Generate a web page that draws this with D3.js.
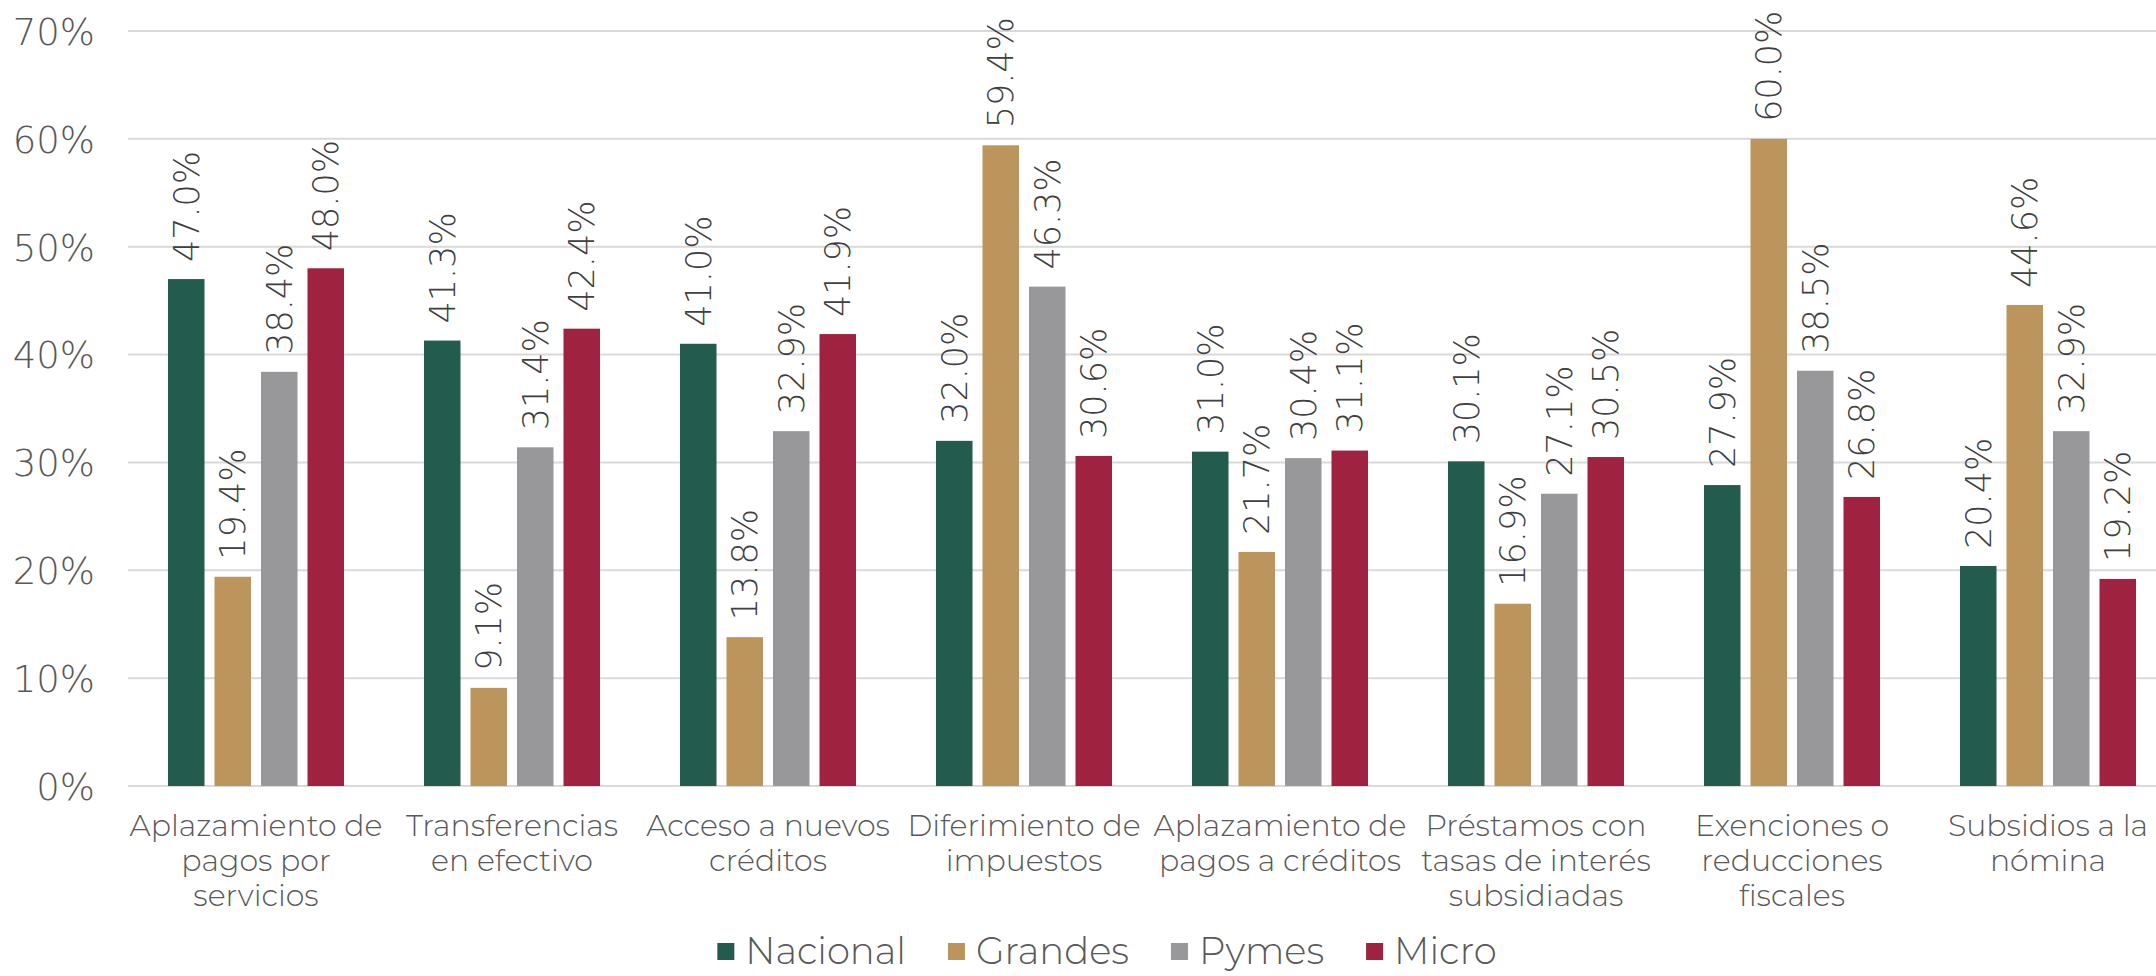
<!DOCTYPE html>
<html>
<head>
<meta charset="utf-8">
<script src="https://cdn.jsdelivr.net/npm/d3@7"></script>
<style>
	body { margin: 0; background: #fff; }
	svg { display: block; font-family: 'Montserrat', 'Lato', sans-serif; font-weight: 300; }
	.num { font-family: 'DejaVu Sans', sans-serif; font-weight: 200; }
</style>
</head>
<body>
<svg id="chart" width="2156" height="976"></svg>
<script>
	// categorias (cada linea es un renglon de la etiqueta)
	var categories = [
		['Aplazamiento de', 'pagos por', 'servicios'],
		['Transferencias', 'en efectivo'],
		['Acceso a nuevos', 'créditos'],
		['Diferimiento de', 'impuestos'],
		['Aplazamiento de', 'pagos a créditos'],
		['Préstamos con', 'tasas de interés', 'subsidiadas'],
		['Exenciones o', 'reducciones', 'fiscales'],
		['Subsidios a la', 'nómina']
	];
	var seriesNames = ['Nacional', 'Grandes', 'Pymes', 'Micro'];
	var seriesColors = ['#235b4e', '#bc955c', '#98989a', '#9f2241'];

	var nacional = [47.0, 41.3, 41.0, 32.0, 31.0, 30.1, 27.9, 20.4];
	var grandes  = [19.4, 9.1, 13.8, 59.4, 21.7, 16.9, 60.0, 44.6];
	var pymes    = [38.4, 31.4, 32.9, 46.3, 30.4, 27.1, 38.5, 32.9];
	var micro    = [48.0, 42.4, 41.9, 30.6, 31.1, 30.5, 26.8, 19.2];

	var yTicks = [0, 10, 20, 30, 40, 50, 60, 70];

	var seriesValues = [nacional, grandes, pymes, micro];
	var catKeys = categories.map(function(c){ return c.join(' '); });

	var svg = d3.select('#chart');
	var textColor = '#595959';

	var x0 = d3.scaleBand()
		.domain(catKeys)
		.range([128, 2176])
		.paddingInner(0.3125)
		.paddingOuter(0.15625);

	var x1 = d3.scaleBand()
		.domain(seriesNames)
		.range([0, x0.bandwidth()])
		.paddingInner(0.215);

	var y = d3.scaleLinear()
		.domain([0, 70])
		.range([786, 31]);

	// grid
	svg.append('g')
		.selectAll('line')
		.data(yTicks)
		.enter()
		.append('line')
		.attr('x1', 128)
		.attr('x2', 2156)
		.attr('y1', function(d){ return y(d); })
		.attr('y2', function(d){ return y(d); })
		.attr('stroke', '#d9d9d9')
		.attr('stroke-width', 2);

	// eje y
	var yAxis = svg.append('g')
		.attr('transform', 'translate(95,0)')
		.call(d3.axisLeft(y).tickValues(yTicks).tickSize(0).tickFormat(function(d){ return d + '%'; }));
	yAxis.attr('font-family', null).attr('font-size', null);
	yAxis.select('.domain').remove();
	yAxis.selectAll('text')
		.attr('class', 'num')
		.attr('x', 0)
		.attr('dy', '0.36em')
		.attr('fill', textColor)
		.style('font-size', '37px');

	// barras
	var rows = catKeys.map(function(key, i){
		return {
			key: key,
			values: seriesNames.map(function(name, s){
				return { name: name, value: seriesValues[s][i], color: seriesColors[s] };
			})
		};
	});

	var groups = svg.append('g')
		.selectAll('g')
		.data(rows)
		.enter()
		.append('g')
		.attr('transform', function(d){ return 'translate(' + x0(d.key) + ',0)'; });

	groups.selectAll('rect')
		.data(function(d){ return d.values; })
		.enter()
		.append('rect')
		.attr('x', function(d){ return x1(d.name); })
		.attr('y', function(d){ return y(d.value); })
		.attr('width', x1.bandwidth())
		.attr('height', function(d){ return y(0) - y(d.value); })
		.attr('fill', function(d){ return d.color; });

	groups.selectAll('text.val')
		.data(function(d){ return d.values; })
		.enter()
		.append('text')
		.attr('class', 'val num')
		.attr('transform', function(d){
			return 'translate(' + (x1(d.name) + x1.bandwidth() / 2) + ',' + (y(d.value) - 17) + ') rotate(-90)';
		})
		.attr('dy', '0.36em')
		.attr('fill', '#404040')
		.style('font-size', '35px')
		.text(function(d){ return d.value.toFixed(1) + '%'; });

	// etiquetas de categoria
	var catLabels = svg.append('g')
		.selectAll('text')
		.data(categories)
		.enter()
		.append('text')
		.attr('text-anchor', 'middle')
		.attr('fill', textColor)
		.style('font-size', '30px')
		.attr('transform', function(d, i){ return 'translate(' + (x0(catKeys[i]) + x0.bandwidth() / 2) + ',836)'; });

	catLabels.selectAll('tspan')
		.data(function(d){ return d; })
		.enter()
		.append('tspan')
		.attr('x', 0)
		.attr('dy', function(d, i){ return i === 0 ? 0 : 35; })
		.text(function(d){ return d; });

	// leyenda
	var legend = svg.append('g').attr('transform', 'translate(0,951)');
	var items = legend.selectAll('g')
		.data(seriesNames)
		.enter()
		.append('g');
	items.append('rect')
		.attr('y', -8)
		.attr('width', 17)
		.attr('height', 17)
		.attr('fill', function(d, i){ return seriesColors[i]; });
	items.append('text')
		.attr('x', 28)
		.attr('dy', '0.36em')
		.attr('fill', textColor)
		.style('font-size', '37px')
		.text(function(d){ return d; });

	var widths = [];
	items.each(function(){ widths.push(28 + d3.select(this).select('text').node().getComputedTextLength()); });
	var gap = 42;
	var total = d3.sum(widths) + gap * (widths.length - 1);
	var cx = 1107 - total / 2;
	items.attr('transform', function(d, i){
		var pos = cx;
		cx += widths[i] + gap;
		return 'translate(' + pos + ',0)';
	});
</script>
</body>
</html>
